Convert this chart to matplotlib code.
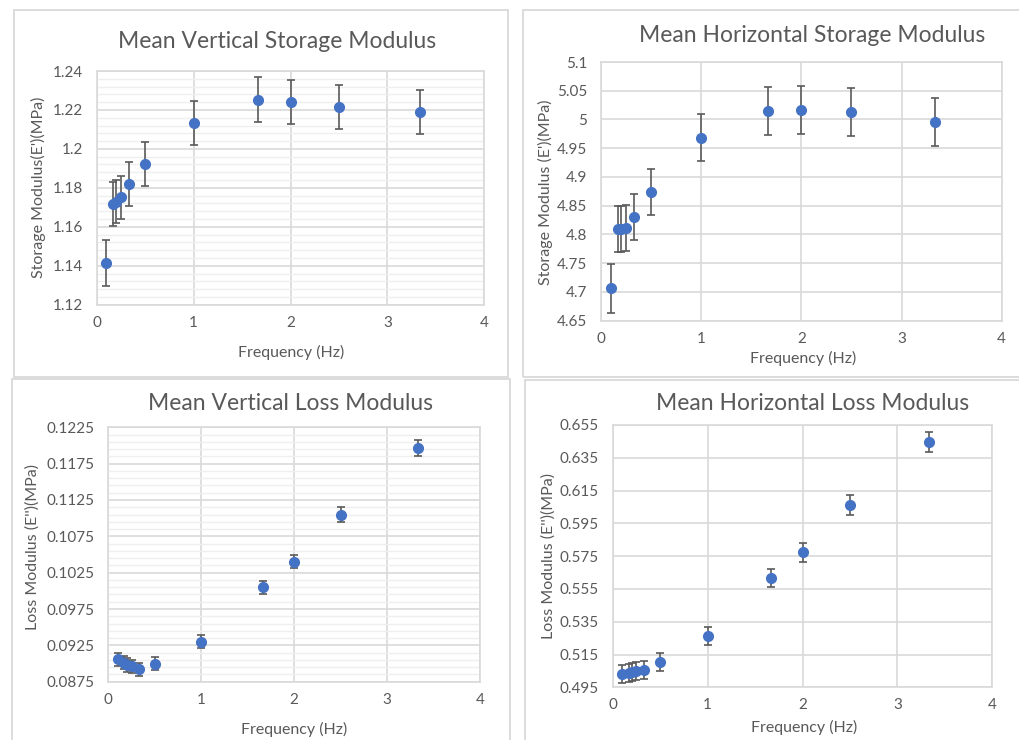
import numpy as np
import matplotlib
matplotlib.use("Agg")
import matplotlib.pyplot as plt
from matplotlib.patches import Rectangle

plt.rcParams['font.family'] = ['Lato', 'DejaVu Sans']

W, H = 1019, 740

# частоты (Гц)
freq = [0.1, 0.1667, 0.2, 0.25, 0.3333, 0.5, 1.0, 1.6667, 2.0, 2.5, 3.3333]

# средние значения модулей (МПа)
vert_storage = [1.1416, 1.1717, 1.1729, 1.1751, 1.1820, 1.1922, 1.2131, 1.2253, 1.2241, 1.2215, 1.2191]
vert_storage_err = [0.0118, 0.0112, 0.0112, 0.0112, 0.0112, 0.0112, 0.0113, 0.0114, 0.0114, 0.0114, 0.0114]

horiz_storage = [4.7062, 4.8094, 4.8094, 4.8110, 4.8309, 4.8732, 4.9683, 5.0142, 5.0159, 5.0136, 4.9956]
horiz_storage_err = [0.043, 0.040, 0.040, 0.040, 0.040, 0.040, 0.041, 0.0415, 0.0415, 0.0415, 0.0415]

vert_loss = [0.0906, 0.0901, 0.0898, 0.0896, 0.0892, 0.0900, 0.0930, 0.1005, 0.1040, 0.1105, 0.1197]
vert_loss_err = [0.0009, 0.0009, 0.0009, 0.0009, 0.0009, 0.0009, 0.0009, 0.0009, 0.0009, 0.0010, 0.0011]

horiz_loss = [0.5033, 0.5040, 0.5046, 0.5050, 0.5054, 0.5105, 0.5263, 0.5615, 0.5775, 0.6062, 0.6446]
horiz_loss_err = [0.0055, 0.0055, 0.0055, 0.0055, 0.0055, 0.0055, 0.0052, 0.0055, 0.0058, 0.0058, 0.0059]

TXT = '#595959'
GRID = '#D9D9D9'
MINOR = '#EFEFEF'
BLUE = '#4472C4'

fig = plt.figure(figsize=(W / 100, H / 100), dpi=100)


def px_rect(x0, x1, y0, y1):
    return [x0 / W, 1 - y1 / H, (x1 - x0) / W, (y1 - y0) / H]


def box(x0, x1, y0, y1):
    fig.patches.append(Rectangle((x0 / W, 1 - y1 / H), (x1 - x0) / W, (y1 - y0) / H,
                                 transform=fig.transFigure, fill=False,
                                 edgecolor=GRID, linewidth=1.3))


def panel(rect, y, err, ylim, ystep, yminor, title, ylabel, tpos, xlpos, ylpos):
    ax = fig.add_axes(px_rect(*rect))
    ax.errorbar(freq, y, yerr=err, fmt='o', color=BLUE, markersize=7,
                ecolor='#5A5A5A', elinewidth=1.2, capsize=3, capthick=1.2, zorder=3)
    lo, hi = ylim
    ax.set_xlim(0, 4)
    ax.set_ylim(lo, hi)
    ax.set_xticks(np.arange(0, 5, 1))
    ax.set_yticks(np.arange(lo, hi + ystep / 2, ystep))
    if yminor:
        ax.set_yticks(np.arange(lo, hi + yminor / 2, yminor), minor=True)
        ax.grid(True, which='minor', axis='y', color=MINOR, linewidth=1.0)
    ax.grid(True, which='major', color=GRID, linewidth=1.2)
    ax.set_axisbelow(True)
    for s in ax.spines.values():
        s.set_color(GRID)
        s.set_linewidth(1.2)
    ax.tick_params(which='both', length=0, labelsize=11, colors=TXT)
    ax.tick_params(axis='x', pad=8)
    ax.tick_params(axis='y', pad=10)
    ax.xaxis.set_major_formatter(plt.FuncFormatter(lambda v, p: f'{v:g}'))
    ax.yaxis.set_major_formatter(plt.FuncFormatter(lambda v, p: f'{round(v, 6):g}'))
    fig.text(tpos[0] / W, 1 - tpos[1] / H, title, ha='center', va='center',
             fontsize=16.5, color=TXT)
    fig.text(xlpos[0] / W, 1 - xlpos[1] / H, 'Frequency (Hz)', ha='center', va='center',
             fontsize=11.5, color=TXT)
    fig.text(ylpos[0] / W, 1 - ylpos[1] / H, ylabel, ha='center', va='center',
             rotation=90, fontsize=11.5, color=TXT)
    return ax


box(14, 508, 10, 377)
box(523, 1025, 10, 377)
box(12, 510, 379, 745)
box(525, 1025, 380, 745)

panel((96.7, 484.3, 71, 304.7), vert_storage, vert_storage_err, (1.12, 1.24), 0.02, 0.004,
      'Mean Vertical Storage Modulus', "Storage Modulus(E')(MPa)",
      (277, 42), (291, 352), (38, 187))

panel((601, 1001.7, 62, 320.7), horiz_storage, horiz_storage_err, (4.65, 5.1), 0.05, None,
      'Mean Horizontal Storage Modulus', "Storage Modulus (E')(MPa)",
      (811.7, 36), (803, 358), (545, 192))

panel((108.3, 480, 427.3, 681.7), vert_loss, vert_loss_err, (0.0875, 0.1225), 0.005, 0.001,
      'Mean Vertical Loss Modulus', "Loss Modulus (E'')(MPa)",
      (290, 404), (294, 729), (33, 547))

panel((612.7, 992.3, 425, 687.3), horiz_loss, horiz_loss_err, (0.495, 0.655), 0.02, None,
      'Mean Horizontal Loss Modulus', "Loss Modulus (E'')(MPa)",
      (812.7, 403), (803.7, 727), (549, 556))

fig.savefig('out.png', dpi=100)
